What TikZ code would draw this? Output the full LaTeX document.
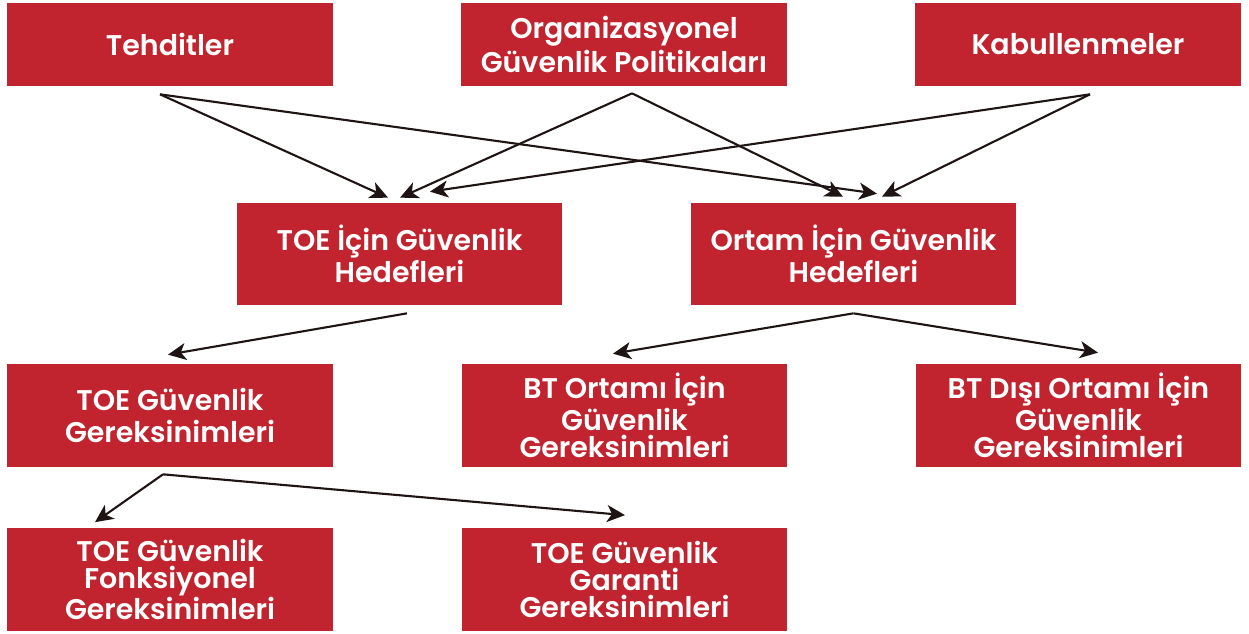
\documentclass[tikz,border=0pt]{standalone}
\usepackage{fontspec}
\setmainfont{Poppins}[BoldFont={Poppins SemiBold}]
\usetikzlibrary{arrows.meta,calc}
\definecolor{boxred}{RGB}{193,36,46}
\definecolor{arrowdark}{RGB}{30,20,20}
\begin{document}
\begin{tikzpicture}[x=0.02cm,y=-0.02cm,
  box/.style={fill=boxred,text=white,align=center,inner sep=0pt,
    minimum width=6.52cm,minimum height=2.06cm,
    font=\bfseries\fontsize{16.2}{18.5}\selectfont},
  topbox/.style={box,minimum height=1.66cm},
  tight/.style={font=\bfseries\fontsize{16.2}{15.2}\selectfont},
  arr/.style={-{Stealth[length=0.36cm,width=0.34cm,inset=0.1cm]},line width=1.2pt,draw=arrowdark}]
\useasboundingbox (0,0) rectangle (1249,634);
\node[topbox] (thr) at (170,44.5) {Tehditler};
\node[topbox,font=\bfseries\fontsize{16.2}{19.5}\selectfont] (org) at (624,44.5) {Organizasyonel\\Güvenlik Politikaları};
\node[topbox] (kab) at (1078,44.5) {Kabullenmeler};
\node[box,minimum height=2.04cm] (toeobj) at (399.5,254) {TOE İçin Güvenlik\\Hedefleri};
\node[box,minimum height=2.04cm] (envobj) at (853.5,254) {Ortam İçin Güvenlik\\Hedefleri};
\node[box] (toereq) at (170,415.5) {TOE Güvenlik\\Gereksinimleri};
\node[box,tight] (btreq) at (624.5,415.5) {BT Ortamı İçin\\Güvenlik\\Gereksinimleri};
\node[box,tight] (nbtreq) at (1078.5,415.5) {BT Dışı Ortamı İçin\\Güvenlik\\Gereksinimleri};
\node[box,tight] (funcreq) at (170,579.5) {TOE Güvenlik\\Fonksiyonel\\Gereksinimleri};
\node[box,tight] (garreq) at (624.5,579.5) {TOE Güvenlik\\Garanti\\Gereksinimleri};
\coordinate (thr-out) at ($(thr.south)+(-10,8)$);
\coordinate (org-out) at ($(org.south)+(8,7)$);
\coordinate (kab-out) at ($(kab.south)+(12,8)$);
\coordinate (toeobj-out) at ($(toeobj.south)+(7.5,8)$);
\coordinate (envobj-out) at ($(envobj.south)+(0,8)$);
\coordinate (toereq-out) at ($(toereq.south)+(-7,7)$);
\draw[arr] (thr-out) -- ($(toeobj.north)+(-11.5,-5)$);
\draw[arr] (thr-out) -- ($(envobj.north)+(23.5,-9)$);
\draw[arr] (org-out) -- ($(toeobj.north)+(0.5,-5)$);
\draw[arr] (org-out) -- ($(envobj.north)+(-10.5,-6)$);
\draw[arr] (kab-out) -- ($(toeobj.north)+(30.5,-11)$);
\draw[arr] (kab-out) -- ($(envobj.north)+(28.5,-6)$);
\draw[arr] (toeobj-out) -- ($(toereq.north)+(-2,-9)$);
\draw[arr] (envobj-out) -- ($(btreq.north)+(-11.5,-10)$);
\draw[arr] (envobj-out) -- ($(nbtreq.north)+(19.5,-11)$);
\draw[arr] (toereq-out) -- ($(funcreq.north)+(-75,-5.5)$);
\draw[arr] (toereq-out) -- ($(garreq.north)+(0.5,-12.5)$);
\end{tikzpicture}
\end{document}
